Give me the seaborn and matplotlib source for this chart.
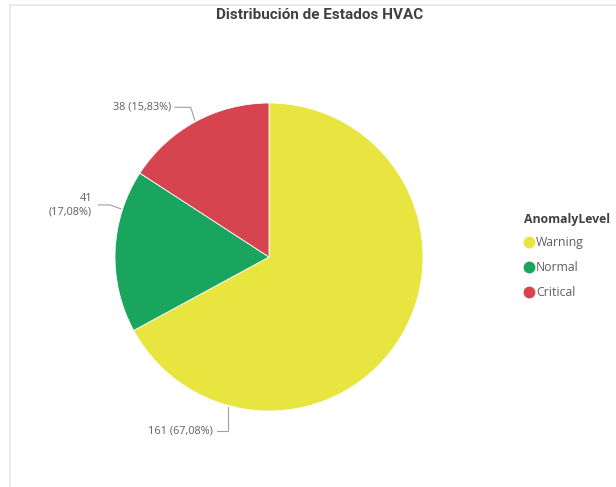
import numpy as np
import matplotlib
matplotlib.use("Agg")
import matplotlib.pyplot as plt
import seaborn as sns
from matplotlib.lines import Line2D

# datos
levels = ['Warning', 'Normal', 'Critical']
counts = [161, 41, 38]
colors = ['#E8E540', '#1AA55E', '#D5444F']

sns.set_theme(style="white")
plt.rcParams['font.family'] = ['Open Sans', 'DejaVu Sans']

W, H = 616, 487
fig = plt.figure(figsize=(W / 100, H / 100), dpi=100)

# ejes del pie: centro (269, 257), radio 154 px
cx, cy, r = 269, 257, 154
ax = fig.add_axes([(cx - r) / W, (H - cy - r) / H, 2 * r / W, 2 * r / H])
wedges, _ = ax.pie(counts, colors=colors, startangle=90, counterclock=False,
                   radius=1.0, wedgeprops=dict(linewidth=0.6, edgecolor='white'))
ax.set_xlim(-1, 1)
ax.set_ylim(-1, 1)
ax.set_aspect('equal')
ax.axis('off')

total = sum(counts)
px = 1.0 / r
txt_color = '#605E5C'
line_color = '#A19F9D'

# etiquetas con lineas guia (angulo en el borde, codo, texto)
label_cfg = {
    'Critical': dict(ang=118.5, elbow=(-4, 13), seg=(-16, 0), pad=-4, two_lines=False),
    'Normal': dict(ang=162, elbow=(-11, 4), seg=(-12, 0), pad=-6, two_lines=True),
    'Warning': dict(ang=-105.4, elbow=(0, -24), seg=(-11, 0), pad=-4, two_lines=False),
}
for lev, val in zip(levels, counts):
    cfg = label_cfg[lev]
    pct = f"{val / total * 100:.2f}".replace('.', ',')
    sep = '\n' if cfg['two_lines'] else ' '
    text = f"{val}{sep}({pct}%)"
    a = np.deg2rad(cfg['ang'])
    x0, y0 = np.cos(a) * 1.01, np.sin(a) * 1.01
    x1, y1 = x0 + cfg['elbow'][0] * px, y0 + cfg['elbow'][1] * px
    x2, y2 = x1 + cfg['seg'][0] * px, y1 + cfg['seg'][1] * px
    ax.plot([x0, x1, x2], [y0, y1, y2], color=line_color, lw=0.8,
            clip_on=False, solid_joinstyle='miter')
    ax.text(x2 + cfg['pad'] * px, y2, text, ha='right', va='center',
            fontsize=7.8, color=txt_color, clip_on=False,
            multialignment='right', linespacing=1.3)

# titulo
fig.text(320 / W, 1 - 15 / H, 'Distribución de Estados HVAC', ha='center', va='center',
         fontsize=11, fontweight='bold', color='#404040',
         family=['Liberation Sans Narrow', 'Roboto', 'DejaVu Sans'])

# leyenda (titulo aparte para controlar el espacio)
fig.text(524 / W, 1 - 220 / H, 'AnomalyLevel', ha='left', va='center',
         fontsize=8.8, fontweight='bold', color='#404040')
handles = [Line2D([0], [0], marker='o', linestyle='', markersize=7.5,
                  markerfacecolor=c, markeredgecolor=c) for c in colors]
leg = fig.legend(handles, levels, loc='upper left',
                 bbox_to_anchor=(523 / W, 1 - 236 / H), frameon=False,
                 fontsize=8.8, handletextpad=0.05,
                 handlelength=1.0, labelspacing=1.0, borderaxespad=0,
                 borderpad=0)
for t in leg.get_texts():
    t.set_color(txt_color)

# bordes del contenedor
fig.add_artist(Line2D([10 / W, 10 / W], [0, 1 - 5 / H], color='#E6E6E6', lw=1.2))
fig.add_artist(Line2D([10 / W, 1], [1 - 5 / H, 1 - 5 / H], color='#E6E6E6', lw=1.2))

fig.savefig('out.png', dpi=100, facecolor='white')
